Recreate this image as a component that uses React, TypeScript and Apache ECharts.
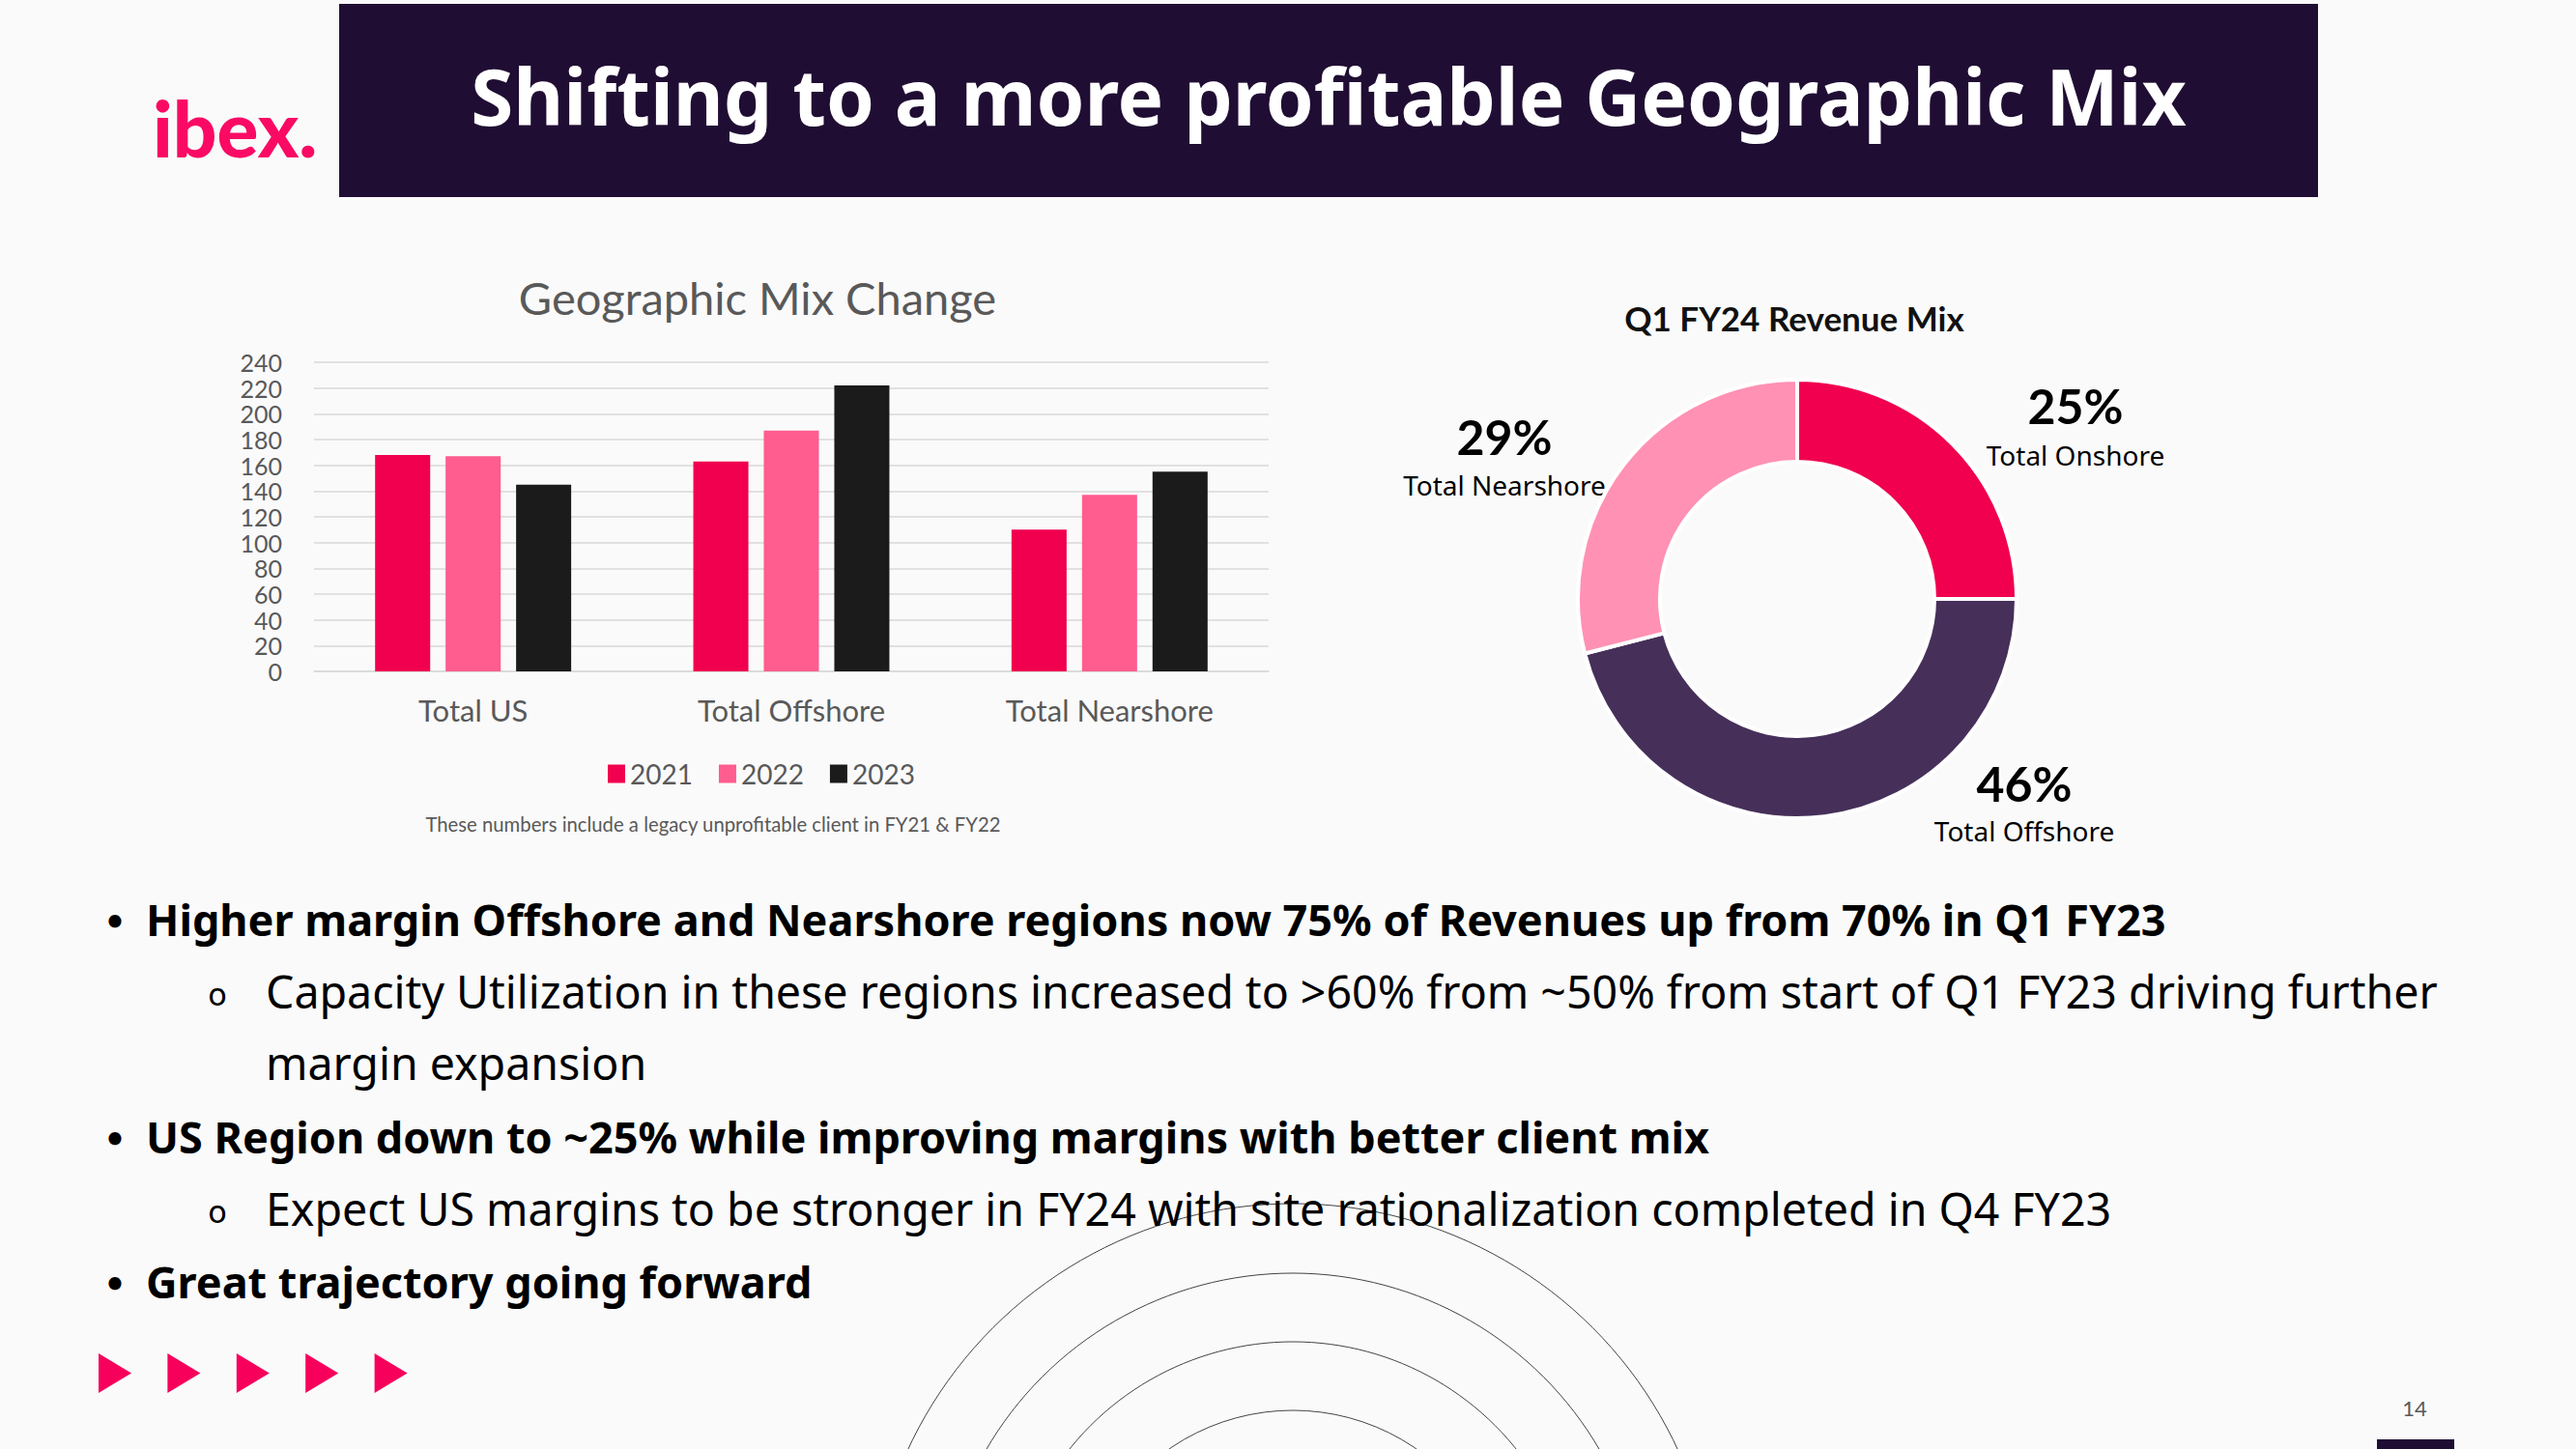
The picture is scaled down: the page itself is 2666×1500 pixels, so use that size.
import React, { useEffect, useRef } from "react";
import * as echarts from "echarts";

const categories = ["Total US", "Total Offshore", "Total Nearshore"];
const years = ["2021", "2022", "2023"];
const values2021 = [168, 163, 110];
const values2022 = [167, 187, 137];
const values2023 = [145, 222, 155];
const yMin = 0;
const yMax = 240;
const yInterval = 20;

const mixNames = ["Total Onshore", "Total Offshore", "Total Nearshore"];
const mixValues = [25, 46, 29];

const bulletLines = [
  { kind: "main", text: "Higher margin Offshore and Nearshore regions now 75% of Revenues up from 70% in Q1 FY23" },
  { kind: "sub", text: "Capacity Utilization in these regions increased to >60% from ~50% from start of Q1 FY23 driving further" },
  { kind: "cont", text: "margin expansion" },
  { kind: "main", text: "US Region down to ~25% while improving margins with better client mix" },
  { kind: "sub", text: "Expect US margins to be stronger in FY24 with site rationalization completed in Q4 FY23" },
  { kind: "main", text: "Great trajectory going forward" },
];

const FONT = "Lato, 'Noto Sans', sans-serif";
const GFONT = "'Noto Sans', 'Open Sans', sans-serif";
const PINK = "#F0004F";
const PINK2 = "#FF5C8F";
const DARK = "#1B1B1B";
const NAVY = "#200D33";

export default function App() {
  const ref = useRef<HTMLDivElement>(null);

  useEffect(() => {
    if (!ref.current) return;
    const chart = echarts.init(ref.current, undefined, { renderer: "svg" });

    const graphics: any[] = [];
    // decorative concentric arcs
    [439, 367, 296, 225].forEach((r) => {
      graphics.push({
        type: "circle",
        shape: { cx: 1338, cy: 1685, r },
        style: { fill: "none", stroke: "#444", lineWidth: 1 },
        z: 0,
        silent: true,
      });
    });
    // header
    graphics.push({ type: "rect", shape: { x: 351, y: 4, width: 2048, height: 200 }, style: { fill: NAVY }, z: 1 });
    graphics.push({
      type: "text",
      x: 1375,
      y: 98,
      style: {
        text: "Shifting to a more profitable Geographic Mix",
        fill: "#fff",
        font: `bold 80px ${GFONT}`,
        align: "center",
        verticalAlign: "middle",
      },
      z: 2,
    });
    // logo
    graphics.push({
      type: "text",
      x: 158,
      y: 132,
      style: { text: "ibex.", fill: "#FA0A64", font: `900 80px ${FONT}`, align: "left", verticalAlign: "middle" },
      z: 2,
    });
    // bar chart title + footnote
    graphics.push({
      type: "text",
      x: 784,
      y: 308,
      style: { text: "Geographic Mix Change", fill: "#595959", font: `47px ${FONT}`, align: "center", verticalAlign: "middle" },
    });
    graphics.push({
      type: "text",
      x: 738,
      y: 853,
      style: {
        text: "These numbers include a legacy unprofitable client in FY21 & FY22",
        fill: "#595959",
        font: `20.3px ${FONT}`,
        align: "center",
        verticalAlign: "middle",
      },
    });
    // donut title
    graphics.push({
      type: "text",
      x: 1857,
      y: 329,
      style: { text: "Q1 FY24 Revenue Mix", fill: "#111", font: `bold 35px ${FONT}`, align: "center", verticalAlign: "middle" },
    });
    // donut labels
    const labelPos = [
      [2148, 420, 471],
      [2095, 811, 860],
      [1557, 452, 502],
    ];
    mixNames.forEach((name, i) => {
      const [x, y1, y2] = labelPos[i];
      graphics.push({
        type: "text",
        x,
        y: y1,
        style: { text: `${mixValues[i]}%`, fill: "#000", font: `bold 50px ${FONT}`, align: "center", verticalAlign: "middle" },
      });
      graphics.push({
        type: "text",
        x,
        y: y2,
        style: { text: name, fill: "#000", font: `28px ${GFONT}`, align: "center", verticalAlign: "middle" },
      });
    });
    // bullets
    const lineYs = [951, 1026, 1100, 1176, 1251, 1326];
    bulletLines.forEach((l, i) => {
      const y = lineYs[i];
      if (l.kind === "main") {
        graphics.push({
          type: "text",
          x: 119,
          y,
          style: { text: "•", fill: "#000", font: `bold 30px ${FONT}`, align: "center", verticalAlign: "middle" },
        });
      } else if (l.kind === "sub") {
        graphics.push({
          type: "text",
          x: 225,
          y: y + 4,
          style: { text: "o", fill: "#000", font: `32px 'DejaVu Sans', sans-serif`, align: "center", verticalAlign: "middle" },
        });
      }
      graphics.push({
        type: "text",
        x: l.kind === "main" ? 151 : 275,
        y,
        style: {
          text: l.text,
          fill: "#000",
          font: l.kind === "main" ? `bold 45px ${GFONT}` : `46.5px ${GFONT}`,
          align: "left",
          verticalAlign: "middle",
        },
      });
    });
    // triangles
    [0, 1, 2, 3, 4].forEach((k) => {
      const x0 = 102 + k * 71.4;
      graphics.push({
        type: "polygon",
        shape: { points: [[x0, 1401], [x0 + 34, 1421.5], [x0, 1442]] },
        style: { fill: "#F7005C" },
      });
    });
    // page number + bottom rect
    graphics.push({
      type: "text",
      x: 2499,
      y: 1457,
      style: { text: "14", fill: "#595959", font: `22px ${FONT}`, align: "center", verticalAlign: "middle" },
    });
    graphics.push({ type: "rect", shape: { x: 2460, y: 1490, width: 80, height: 10 }, style: { fill: NAVY } });

    const barColors = [PINK, PINK2, DARK];
    const barValues = [values2021, values2022, values2023];

    chart.setOption({
      animation: false,
      backgroundColor: "#FAFAFA",
      textStyle: { fontFamily: FONT },
      grid: { left: 325, top: 375, width: 988, height: 320, containLabel: false },
      legend: {
        data: years,
        left: 624,
        top: 782,
        icon: "rect",
        itemWidth: 18,
        itemHeight: 19,
        itemGap: 27,
        textStyle: { fontSize: 28, color: "#595959", fontFamily: FONT },
      },
      xAxis: {
        type: "category",
        data: categories,
        axisLine: { show: true, lineStyle: { color: "#D9D9D9", width: 1.5 } },
        axisTick: { show: false },
        axisLabel: { fontSize: 31, color: "#595959", margin: 24, fontFamily: FONT },
      },
      yAxis: {
        type: "value",
        min: yMin,
        max: yMax,
        interval: yInterval,
        axisLine: { show: false },
        axisTick: { show: false },
        axisLabel: {
          fontSize: 25,
          lineHeight: 25,
          color: "#595959",
          margin: 33,
          fontFamily: FONT,
          showMinLabel: true,
          showMaxLabel: true,
          hideOverlap: false,
        },
        splitLine: { lineStyle: { color: "#D9D9D9", width: 1.5 } },
      },
      series: [
        ...years.map((y, i) => ({
          type: "bar",
          name: y,
          data: barValues[i],
          barWidth: 57,
          barGap: "28%",
          itemStyle: { color: barColors[i] },
        })),
        {
          type: "pie",
          center: [1860, 620],
          radius: [142, 227],
          startAngle: 90,
          clockwise: true,
          label: { show: false },
          labelLine: { show: false },
          itemStyle: { borderColor: "#FFFFFF", borderWidth: 4 },
          data: mixNames.map((n, i) => ({
            name: n,
            value: mixValues[i],
            itemStyle: { color: ["#F0004F", "#46305A", "#FF91B4"][i] },
          })),
        },
      ],
      graphic: graphics,
    });

    return () => chart.dispose();
  }, []);

  return (
    <div
      ref={ref}
      style={{ position: "absolute", left: 0, top: 0, width: 2666, height: 1500 }}
    />
  );
}
